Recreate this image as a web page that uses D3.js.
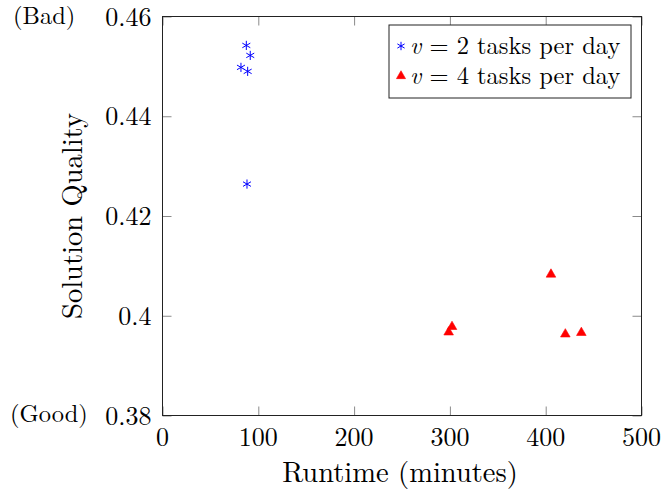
<!DOCTYPE html>
<html>
<head>
<meta charset="utf-8">
<script src="https://cdn.jsdelivr.net/npm/d3@7"></script>
<style>
    html, body { margin: 0; padding: 0; background: #ffffff; }
    svg { display: block; font-family: "Latin Modern Roman", "Liberation Serif", serif; }
    .tick-label { font-size: 26px; fill: #000; }
    .axis-label { font-size: 28.5px; fill: #000; }
    .legend { font-size: 24.5px; fill: #000; }
    .note { font-size: 24.5px; fill: #000; }
</style>
</head>
<body>
<div id="chart"></div>
<script>
// v = 2 tasks per day
const runtimeTwo = [87.5, 91.6, 81.9, 88.9, 88.2];
const qualityTwo = [0.4542, 0.4522, 0.4498, 0.4490, 0.4264];

// v = 4 tasks per day
const runtimeFour = [405.5, 302.2, 298.7, 420.5, 437.2];
const qualityFour = [0.4083, 0.3978, 0.3967, 0.3963, 0.3966];

const xTicks = [0, 100, 200, 300, 400, 500];
const yTicks = [0.38, 0.40, 0.42, 0.44, 0.46];
const seriesLabels = ['2', '4'];

const width = 665;
const height = 490;
const plot = { left: 162.5, right: 641.5, top: 16.5, bottom: 415.5 };

const svg = d3.select('#chart')
    .append('svg')
    .attr('width', width)
    .attr('height', height);

const x = d3.scaleLinear().domain([0, 500]).range([plot.left, plot.right]);
const y = d3.scaleLinear().domain([0.38, 0.46]).range([plot.bottom, plot.top]);

drawTicks();
drawPoints();
drawFrame();
drawLabels();
drawLegend();

function drawTicks() {
    const tickLen = 9;
    const tickColor = '#8a8a8a';

    // pgfplots style: inside ticks, mirrored on the opposite side
    svg.append('g')
        .attr('transform', `translate(0, ${plot.bottom})`)
        .call(d3.axisBottom(x).tickValues(xTicks).tickSize(-tickLen).tickFormat(''))
        .call((g) => g.select('.domain').remove())
        .call((g) => g.selectAll('line').attr('stroke', tickColor));

    svg.append('g')
        .attr('transform', `translate(0, ${plot.top})`)
        .call(d3.axisTop(x).tickValues(xTicks).tickSize(-tickLen).tickFormat(''))
        .call((g) => g.select('.domain').remove())
        .call((g) => g.selectAll('line').attr('stroke', tickColor));

    svg.append('g')
        .attr('transform', `translate(${plot.left}, 0)`)
        .call(d3.axisLeft(y).tickValues(yTicks).tickSize(-tickLen).tickFormat(''))
        .call((g) => g.select('.domain').remove())
        .call((g) => g.selectAll('line').attr('stroke', tickColor));

    svg.append('g')
        .attr('transform', `translate(${plot.right}, 0)`)
        .call(d3.axisRight(y).tickValues(yTicks).tickSize(-tickLen).tickFormat(''))
        .call((g) => g.select('.domain').remove())
        .call((g) => g.selectAll('line').attr('stroke', tickColor));

    svg.append('g')
        .selectAll('text')
        .data(xTicks)
        .enter()
        .append('text')
        .attr('class', 'tick-label')
        .attr('x', (d) => x(d))
        .attr('y', plot.bottom + 30)
        .attr('text-anchor', 'middle')
        .text((d) => d);

    svg.append('g')
        .selectAll('text')
        .data(yTicks)
        .enter()
        .append('text')
        .attr('class', 'tick-label')
        .attr('x', plot.left - 11)
        .attr('y', (d) => y(d) + 9)
        .attr('text-anchor', 'end')
        .text((d) => String(+d.toFixed(2)));
}

function drawFrame() {
    svg.append('rect')
        .attr('x', plot.left)
        .attr('y', plot.top)
        .attr('width', plot.right - plot.left)
        .attr('height', plot.bottom - plot.top)
        .attr('fill', 'none')
        .attr('stroke', '#222')
        .attr('stroke-width', 1);
}

function asteriskPath(r) {
    const a = r * Math.cos(Math.PI / 6);
    const b = r * Math.sin(Math.PI / 6);
    return `M0,${-r}L0,${r}M${-a},${-b}L${a},${b}M${-a},${b}L${a},${-b}`;
}

function drawPoints() {
    const stars = runtimeTwo.map((r, i) => ({ r, q: qualityTwo[i] }));
    const tris = runtimeFour.map((r, i) => ({ r, q: qualityFour[i] }));

    svg.append('g')
        .selectAll('path')
        .data(stars)
        .enter()
        .append('path')
        .attr('transform', (d) => `translate(${x(d.r)}, ${y(d.q)})`)
        .attr('d', asteriskPath(4.6))
        .attr('fill', 'none')
        .attr('stroke', '#0000ff')
        .attr('stroke-width', 1);

    svg.append('g')
        .selectAll('path')
        .data(tris)
        .enter()
        .append('path')
        .attr('transform', (d) => `translate(${x(d.r)}, ${y(d.q)})`)
        .attr('d', d3.symbol().type(d3.symbolTriangle).size(40))
        .attr('fill', '#ff0000')
        .attr('stroke', '#ff0000')
        .attr('stroke-width', 0.6);
}

function drawLabels() {
    svg.append('text')
        .attr('class', 'axis-label')
        .attr('x', 400)
        .attr('y', 482)
        .attr('text-anchor', 'middle')
        .text('Runtime (minutes)');

    svg.append('text')
        .attr('class', 'axis-label')
        .attr('transform', `translate(82, ${(plot.top + plot.bottom) / 2}) rotate(-90)`)
        .attr('text-anchor', 'middle')
        .text('Solution Quality');

    svg.append('text')
        .attr('class', 'note')
        .attr('x', 13)
        .attr('y', 24)
        .text('(Bad)');

    svg.append('text')
        .attr('class', 'note')
        .attr('x', 10)
        .attr('y', 422)
        .text('(Good)');
}

function drawLegend() {
    const legend = svg.append('g').attr('transform', 'translate(389, 25)');

    legend.append('rect')
        .attr('x', 0)
        .attr('y', 0)
        .attr('width', 242)
        .attr('height', 73)
        .attr('fill', '#ffffff')
        .attr('stroke', '#222')
        .attr('stroke-width', 1);

    seriesLabels.forEach((label, index) => {
        const row = legend.append('g')
            .attr('transform', `translate(0, ${21 + index * 30})`);

        if (index === 0) {
            row.append('path')
                .attr('transform', 'translate(12, 0)')
                .attr('d', asteriskPath(4.2))
                .attr('fill', 'none')
                .attr('stroke', '#0000ff')
                .attr('stroke-width', 1);
        } else {
            row.append('path')
                .attr('transform', 'translate(12, 0)')
                .attr('d', d3.symbol().type(d3.symbolTriangle).size(36))
                .attr('fill', '#ff0000')
                .attr('stroke', '#ff0000')
                .attr('stroke-width', 0.6);
        }

        const text = row.append('text')
            .attr('class', 'legend')
            .attr('x', 21)
            .attr('y', 8);

        text.append('tspan').attr('font-style', 'italic').text('v');
        text.append('tspan').text(` = ${label} tasks per day`);
    });
}
</script>
</body>
</html>
